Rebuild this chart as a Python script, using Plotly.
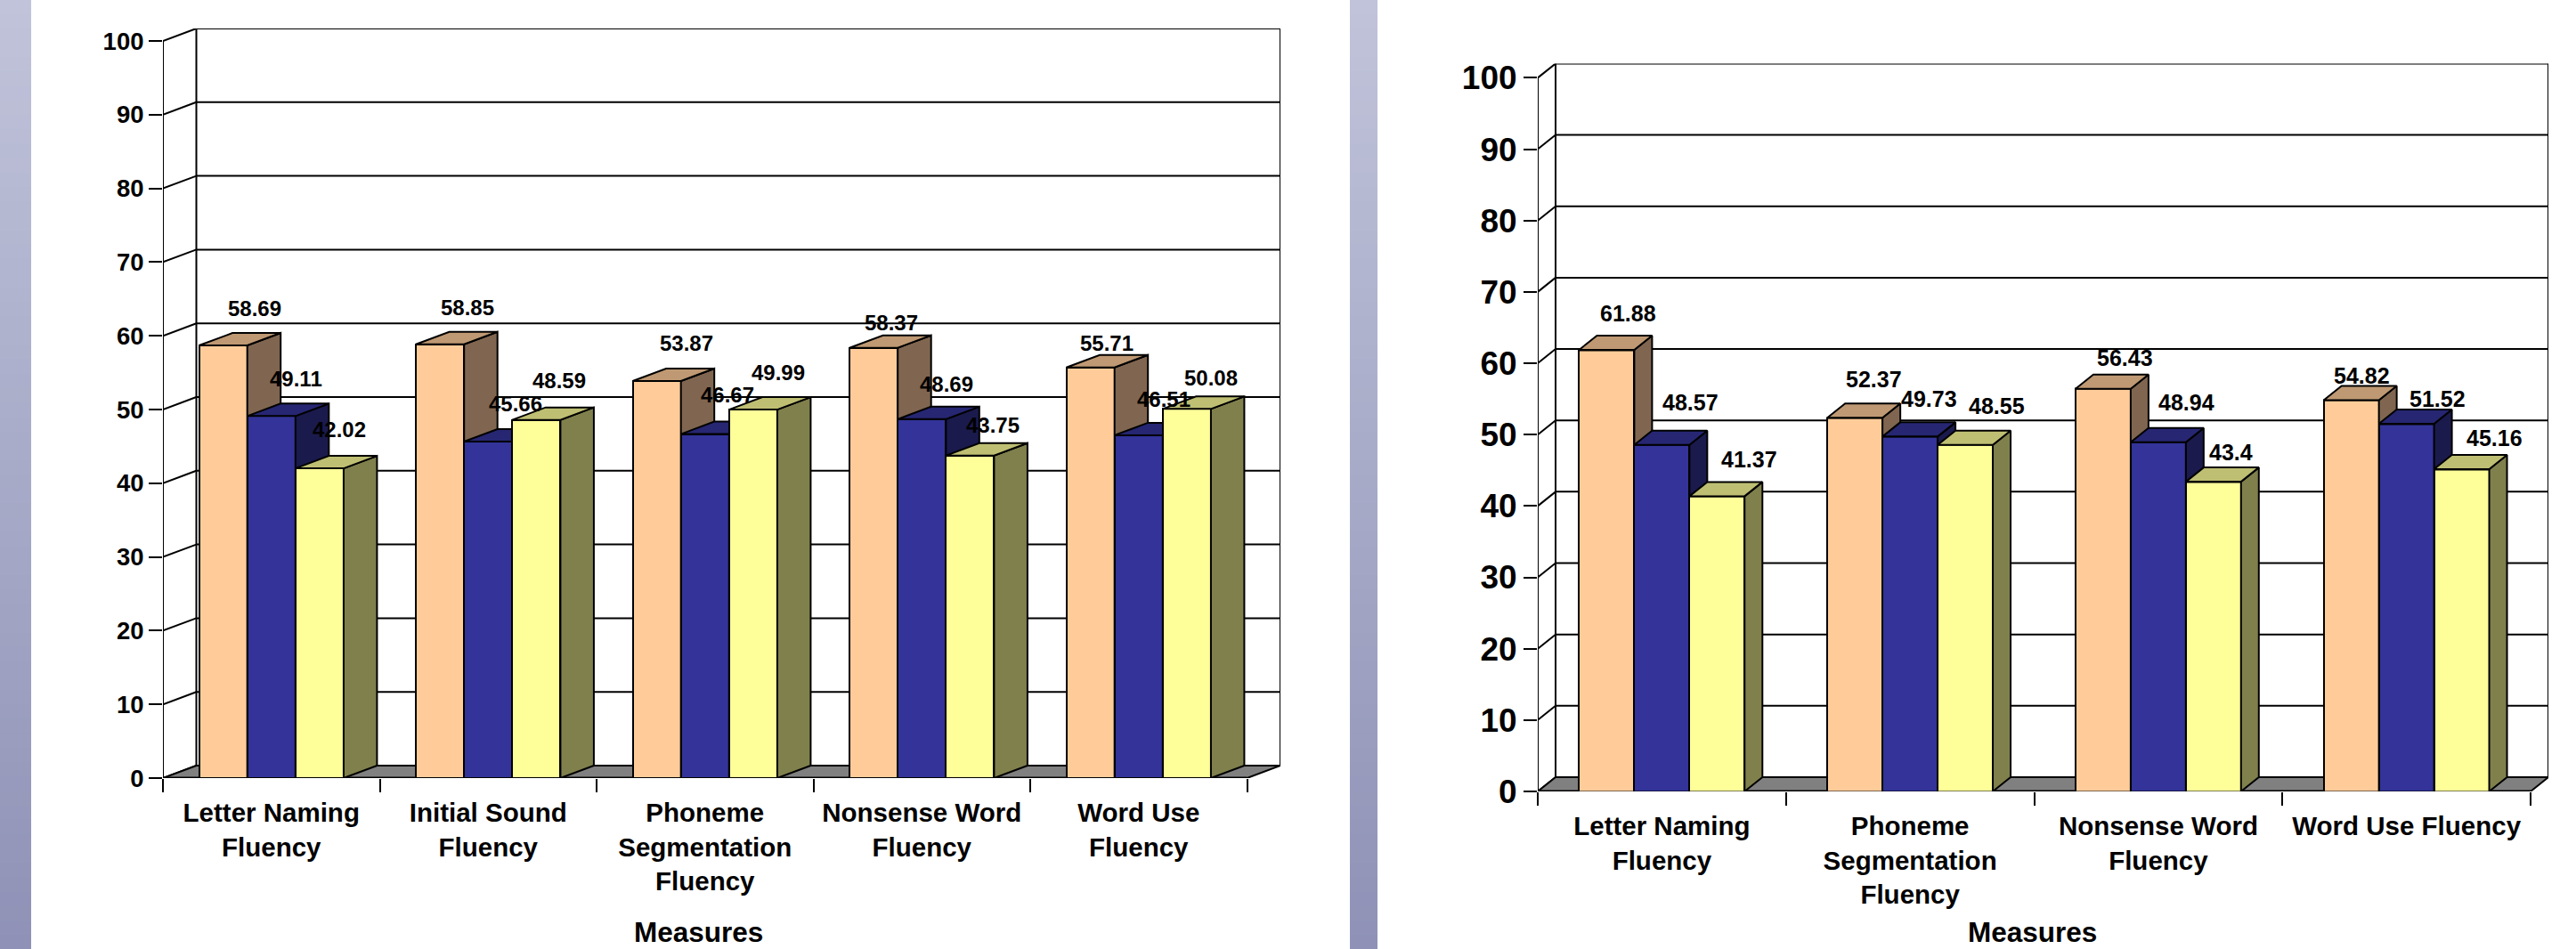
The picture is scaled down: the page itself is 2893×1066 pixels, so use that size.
import plotly.graph_objects as go

# ---------- data ----------
categories_left = ["Letter Naming<br>Fluency", "Initial Sound<br>Fluency",
                   "Phoneme<br>Segmentation<br>Fluency", "Nonsense Word<br>Fluency",
                   "Word Use<br>Fluency"]
peach_left = [58.69, 58.85, 53.87, 58.37, 55.71]
blue_left = [49.11, 45.66, 46.67, 48.69, 46.51]
yellow_left = [42.02, 48.59, 49.99, 43.75, 50.08]

categories_right = ["Letter Naming<br>Fluency", "Phoneme<br>Segmentation<br>Fluency",
                    "Nonsense Word<br>Fluency", "Word Use Fluency"]
peach_right = [61.88, 52.37, 56.43, 54.82]
blue_right = [48.57, 49.73, 48.94, 51.52]
yellow_right = [41.37, 48.55, 43.4, 45.16]

y_ticks = [0, 10, 20, 30, 40, 50, 60, 70, 80, 90, 100]
x_title = "Measures"

# ---------- style ----------
W, H = 2893, 1066
FONT = "Liberation Sans, Arial, sans-serif"
LINE = "#000000"
FACES = [  # front, side, top
    ("#FFCC99", "#806650", "#BF9973"),
    ("#333399", "#1A1A4D", "#262673"),
    ("#FFFF99", "#80804D", "#BFBF73"),
]
FLOOR = "#808080"
BAR_W = 2 / 9

# label nudges in pixels from the top-centre of each bar's front face: (right, up)
nudge_left = [
    [(35, 42), (28, 42), (22, 44)],
    [(31, 41), (31, 42), (26, 44)],
    [(33, 42), (25, 44), (28, 42)],
    [(20, 28), (28, 39), (26, 34)],
    [(18, 27), (28, 40), (27, 35)],
]
nudge_right = [
    [(24, 41), (32, 48), (36, 41)],
    [(21, 43), (21, 42), (35, 44)],
    [(25, 35), (32, 45), (20, 33)],
    [(12, 28), (35, 28), (37, 35)],
]

fig = go.Figure()
layout = dict(
    template="none",
    width=W, height=H, margin=dict(l=0, r=0, t=0, b=0, pad=0), autosize=False,
    paper_bgcolor="white", plot_bgcolor="rgba(0,0,0,0)",
    showlegend=False, bargap=0, barmode="overlay",
    font=dict(family=FONT, color="black"),
)
shapes, annotations = [], []


def poly(xs, ys, fill, xa, ya, width=2):
    fig.add_trace(go.Scatter(x=xs, y=ys, mode="lines", fill="toself", fillcolor=fill,
                             line=dict(color=LINE, width=width), xaxis=xa, yaxis=ya,
                             hoverinfo="skip", cliponaxis=False))


def line(xs, ys, xa, ya, width=2):
    fig.add_trace(go.Scatter(x=xs, y=ys, mode="lines", line=dict(color=LINE, width=width),
                             xaxis=xa, yaxis=ya, hoverinfo="skip", cliponaxis=False))


def chart(first_axis, cats, series, nudges, box, depth_px, tick_size, label_size, title_x):
    px0, px1, py0, py1 = box  # left, right, top, bottom of the whole drawing box
    n = len(cats)
    cat_w = (px1 - depth_px[0] - px0) / n
    ddx = depth_px[0] / cat_w
    unit = (py1 - py0 - depth_px[1]) / 100
    ddy = depth_px[1] / unit
    xr, yr = [0, n + ddx], [0, 100 + ddy]
    dom_x = [px0 / W, px1 / W]
    dom_y = [1 - py1 / H, 1 - py0 / H]

    ax = first_axis
    xa, ya = ("x" if ax == 1 else f"x{ax}"), ("y" if ax == 1 else f"y{ax}")
    xk, yk = ("xaxis" if ax == 1 else f"xaxis{ax}"), ("yaxis" if ax == 1 else f"yaxis{ax}")
    layout[xk] = dict(
        domain=dom_x, range=xr, anchor=ya, showgrid=False, zeroline=False, showline=False,
        automargin=False,
        tickmode="array", tickvals=[i + 0.5 for i in range(n)], ticktext=cats,
        ticks="outside", ticklen=13, tickcolor="rgba(0,0,0,0)",
        tickfont=dict(family=FONT, size=29.5, color="black"), tickangle=0,
        minor=dict(tickmode="array", tickvals=list(range(n + 1)), ticks="outside",
                   ticklen=15, tickwidth=2, tickcolor=LINE, showgrid=False),
    )
    layout[yk] = dict(
        domain=dom_y, range=yr, anchor=xa, showgrid=False, zeroline=False, showline=False,
        automargin=False,
        tickmode="array", tickvals=y_ticks, ticktext=[f"<b>{t}</b>" for t in y_ticks],
        ticks="outside", ticklen=15, tickwidth=2,
        tickcolor=LINE, tickfont=dict(family=FONT, size=tick_size, color="black"),
    )

    # back wall, side wall, floor
    for v in y_ticks:
        line([ddx, n + ddx], [v + ddy, v + ddy], xa, ya)
        line([0, ddx], [v, v + ddy], xa, ya)
    line([0, 0], [0, 100], xa, ya)
    line([ddx, ddx], [ddy, 100 + ddy], xa, ya)
    line([n + ddx, n + ddx], [ddy, 100 + ddy], xa, ya)
    poly([0, n, n + ddx, ddx, 0], [0, 0, ddy, ddy, 0], FLOOR, xa, ya)
    line([0, n], [0, 0], xa, ya, 3)

    # one overlaid layer per series, so that each series covers the side of the last
    for j, vals in enumerate(series):
        a = ax + 1 + j
        xl, yl = f"x{a}", f"y{a}"
        layout[f"xaxis{a}"] = dict(domain=dom_x, range=xr, overlaying=xa, anchor=yl, visible=False)
        layout[f"yaxis{a}"] = dict(domain=dom_y, range=yr, overlaying=ya, anchor=xl, visible=False)
        centers = [i + 0.5 + (j - 1) * BAR_W for i in range(n)]
        front, side, top = FACES[j]
        fig.add_trace(go.Bar(x=centers, y=vals, width=BAR_W, xaxis=xl, yaxis=yl,
                             marker=dict(color=front, line=dict(color=LINE, width=2)),
                             hoverinfo="y", cliponaxis=False))
        for c, v in zip(centers, vals):
            r, l = c + BAR_W / 2, c - BAR_W / 2
            poly([r, r + ddx, r + ddx, r, r], [0, ddy, v + ddy, v, 0], side, xl, yl)
            poly([l, r, r + ddx, l + ddx, l], [v, v, v + ddy, v + ddy, v], top, xl, yl)
        for i, (c, v) in enumerate(zip(centers, vals)):
            dx, dy = nudges[i][j]
            annotations.append(dict(x=c, y=v, xref=xa, yref=ya, text=f"<b>{v}</b>", showarrow=False,
                                    xshift=dx, yshift=dy, xanchor="center", yanchor="middle",
                                    font=dict(family=FONT, size=label_size, color="black")))

    annotations.append(dict(x=title_x / W, y=1 - 1047 / H, xref="paper", yref="paper",
                            text=f"<b>{x_title}</b>", showarrow=False, xanchor="center",
                            yanchor="middle", font=dict(family=FONT, size=31.5, color="black")))


def bold(items):
    return [f"<b>{t}</b>".replace("<br>", "</b><br><b>") for t in items]


def stripe(x0, x1):
    # painted top to bottom, each band running to the page's foot, so no seams show
    top, bottom = (192, 195, 217), (143, 146, 182)
    bands = 66
    for k in range(bands):
        t = k / (bands - 1)
        col = "rgb(%d,%d,%d)" % tuple(round(a + (b - a) * t) for a, b in zip(top, bottom))
        shapes.append(dict(type="rect", xref="paper", yref="paper", layer="below",
                           x0=x0 / W, x1=x1 / W, y0=0, y1=1 - k / bands,
                           fillcolor=col, line=dict(width=0)))


stripe(0, 35)
stripe(1516, 1547)

chart(1, bold(categories_left), [peach_left, blue_left, yellow_left], nudge_left,
      (183, 1438, 32, 874), (37.5, 14), 27.5, 24, 785)
chart(5, bold(categories_right), [peach_right, blue_right, yellow_right], nudge_right,
      (1727, 2862, 71.4, 889), (20, 16), 37, 25, 2282)

layout["shapes"] = shapes
layout["annotations"] = annotations
fig.update_layout(**layout)
fig.write_html("out.html", config=dict(displayModeBar=False),
               post_script="document.body.style.margin='0';")
